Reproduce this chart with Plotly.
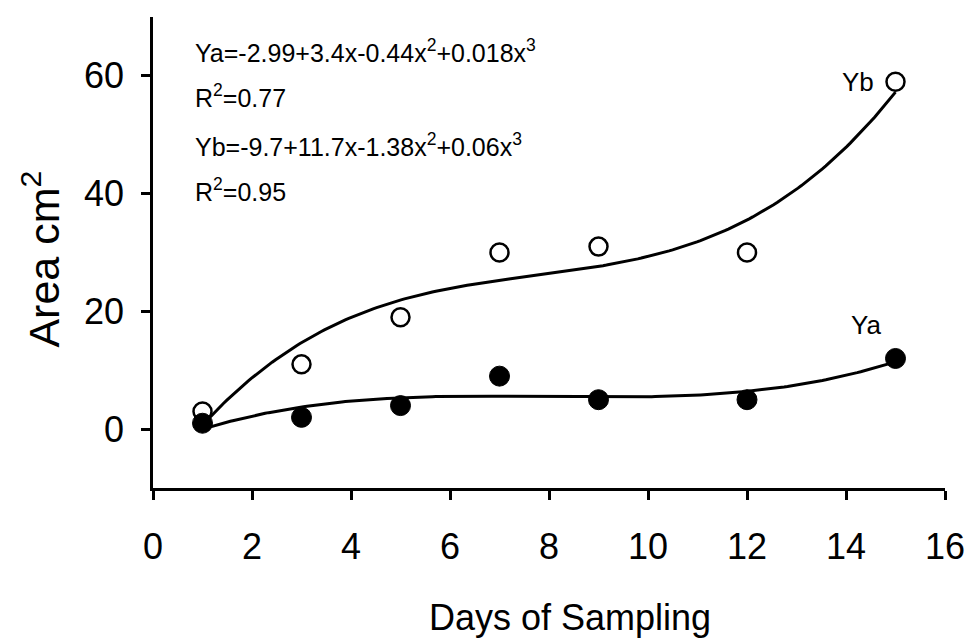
import numpy as np
import plotly.graph_objects as go

days = [1, 3, 5, 7, 9, 12, 15]
ya_values = [1, 2, 4, 9, 5, 5, 12]
yb_values = [3, 11, 19, 30, 31, 30, 59]
x_ticks = [0, 2, 4, 6, 8, 10, 12, 14, 16]
y_ticks = [0, 20, 40, 60]
eq_lines = ["Ya=-2.99+3.4x-0.44x<sup>2</sup>+0.018x<sup>3</sup>",
            "R<sup>2</sup>=0.77",
            "Yb=-9.7+11.7x-1.38x<sup>2</sup>+0.06x<sup>3</sup>",
            "R<sup>2</sup>=0.95"]

FONT = "Liberation Sans, Arial, sans-serif"

xs = np.linspace(days[0], days[-1], 200)
fit_a = np.polyval(np.polyfit(days, ya_values, 3), xs)
fit_b = np.polyval(np.polyfit(days, yb_values, 3), xs)

fig = go.Figure()
fig.add_trace(go.Scatter(x=xs, y=fit_b, mode="lines", line=dict(color="black", width=3), showlegend=False))
fig.add_trace(go.Scatter(x=xs, y=fit_a, mode="lines", line=dict(color="black", width=3), showlegend=False))
fig.add_trace(go.Scatter(x=days, y=yb_values, mode="markers",
                         marker=dict(symbol="circle", size=18, color="white", line=dict(color="black", width=2.5)),
                         showlegend=False))
fig.add_trace(go.Scatter(x=days, y=ya_values, mode="markers",
                         marker=dict(symbol="circle", size=20, color="black", line=dict(color="black", width=1)),
                         showlegend=False))

axis_common = dict(showline=True, linecolor="black", linewidth=2.5, ticks="outside",
                   ticklen=9, tickwidth=2.5, tickcolor="black", showgrid=False, zeroline=False,
                   tickfont=dict(family=FONT, size=36, color="black"))
fig.update_xaxes(range=[0, 16], tickvals=x_ticks, ticklabelstandoff=16, **axis_common)
fig.update_yaxes(range=[-10, 70], tickvals=y_ticks, ticklabelstandoff=10, **axis_common)

eq_y = [64.2, 56.6, 48.3, 40.6]
for txt, yy in zip(eq_lines, eq_y):
    fig.add_annotation(x=0.8, y=yy, xref="x", yref="y", text=txt, showarrow=False,
                       xanchor="left", yanchor="middle", font=dict(family=FONT, size=25, color="black"))

fig.add_annotation(x=14.61, y=59, text="Yb", showarrow=False, xanchor="right", yanchor="middle",
                   font=dict(family=FONT, size=26, color="black"))
fig.add_annotation(x=14.4, y=17.7, text="Ya", showarrow=False, xanchor="center", yanchor="middle",
                   font=dict(family=FONT, size=26, color="black"))

# plot area in page pixels: x 153..949, y 17..488 (page body has an 8px margin)
fig.add_annotation(x=0.5264, y=-0.274, xref="paper", yref="paper", text="Days of Sampling", showarrow=False,
                   xanchor="center", yanchor="middle", font=dict(family=FONT, size=36, color="black"))
fig.add_annotation(x=-0.1414, y=0.485, xref="paper", yref="paper", text="Area cm<sup>2</sup>", showarrow=False,
                   textangle=-90, xanchor="center", yanchor="middle", font=dict(family=FONT, size=43, color="black"))

fig.update_layout(width=966, height=633, margin=dict(l=145, r=25, t=9, b=153),
                  plot_bgcolor="white", paper_bgcolor="white")

fig.write_html("out.html")
